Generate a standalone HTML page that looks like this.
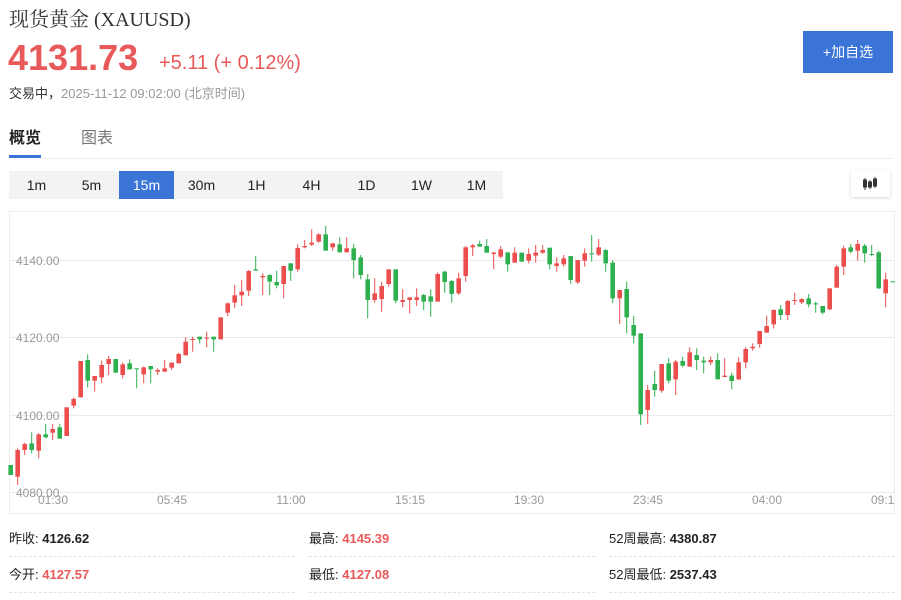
<!DOCTYPE html>
<html><head><meta charset="utf-8"><style>
*{margin:0;padding:0;box-sizing:border-box}
body{width:901px;height:600px;background:#fff;font-family:"Liberation Sans","Noto Sans CJK SC",sans-serif;position:relative;overflow:hidden;color:#333}
.a{position:absolute;white-space:nowrap}
.red{color:#e85a5a}
.iv{position:absolute;top:171px;height:28px;width:55px;line-height:28px;text-align:center;font-size:14px;color:#222}
.st{position:absolute;font-size:13px;color:#222}
.st b{font-weight:bold}
.dl{position:absolute;height:0;border-top:1px dashed #e2e2e2;width:286px}
</style></head><body>
<div class="a" style="left:9px;top:3px;font-size:20px;color:#333;font-family:'Liberation Serif','Noto Serif CJK SC',serif">现货黄金 (XAUUSD)</div>
<div class="a red" style="left:8px;top:37px;font-size:36px;font-weight:bold">4131.73</div>
<div class="a red" style="left:159px;top:52px;font-size:20px">+5.11 (+ 0.12%)</div>
<div class="a" style="left:9px;top:83px;font-size:13px;color:#333">交易中，<span style="color:#999">2025-11-12 09:02:00 (北京时间)</span></div>
<div class="a" style="left:803px;top:31px;width:90px;height:42px;background:#3a74d6;color:#fff;font-size:14px;line-height:42px;text-align:center">+加自选</div>
<div class="a" style="left:9px;top:124px;font-size:16px;font-weight:bold;color:#222">概览</div>
<div class="a" style="left:81px;top:124px;font-size:16px;color:#777">图表</div>
<div class="a" style="left:9px;top:155px;width:32px;height:3px;background:#3a74d6"></div>
<div class="a" style="left:41px;top:158px;width:852px;height:1px;background:#eee"></div>
<div class="a" style="left:9px;top:171px;width:494px;height:28px;background:#f2f3f5"></div>
<div class="iv" style="left:9px">1m</div><div class="iv" style="left:64px">5m</div>
<div class="iv" style="left:119px;background:#3a74d6;color:#fff">15m</div>
<div class="iv" style="left:174px">30m</div><div class="iv" style="left:229px">1H</div>
<div class="iv" style="left:284px">4H</div><div class="iv" style="left:339px">1D</div>
<div class="iv" style="left:394px">1W</div><div class="iv" style="left:449px">1M</div>
<div class="a" style="left:851px;top:170px;width:39px;height:27px;background:#fff;box-shadow:0 1px 3px rgba(0,0,0,.15)">
<svg width="39" height="27"><g fill="#333" stroke="#333"><line x1="14" y1="8" x2="14" y2="20"/><rect x="12.5" y="10" width="3" height="7"/><line x1="19" y1="10" x2="19" y2="19"/><rect x="17.5" y="12" width="3" height="5"/><line x1="24" y1="7" x2="24" y2="18"/><rect x="22.5" y="9" width="3" height="7"/></g></svg></div>
<svg class="a" style="left:0;top:0" width="901" height="520" id="ch">
<rect x="9.5" y="211.5" width="885" height="302" fill="none" stroke="#eee"/>
<g stroke="#eaeaea"><line x1="10" y1="260.5" x2="894" y2="260.5"/><line x1="10" y1="337.5" x2="894" y2="337.5"/><line x1="10" y1="415.5" x2="894" y2="415.5"/><line x1="10" y1="492.5" x2="894" y2="492.5"/></g>
<g font-size="12" fill="#999" font-family="Liberation Sans,sans-serif">
<text x="16" y="265">4140.00</text><text x="16" y="342">4120.00</text><text x="16" y="420">4100.00</text><text x="16" y="497">4080.00</text>
<g text-anchor="middle"><text x="53" y="504">01:30</text><text x="172" y="504">05:45</text><text x="291" y="504">11:00</text><text x="410" y="504">15:15</text><text x="529" y="504">19:30</text><text x="648" y="504">23:45</text><text x="767" y="504">04:00</text></g>
<text x="871" y="504">09:1</text></g>
<g id="cs"></g>
</svg>
<div class="st" style="left:9px;top:528px">昨收: <b>4126.62</b></div>
<div class="st" style="left:309px;top:528px">最高: <b class="red">4145.39</b></div>
<div class="st" style="left:609px;top:528px">52周最高: <b>4380.87</b></div>
<div class="st" style="left:9px;top:564px">今开: <b class="red">4127.57</b></div>
<div class="st" style="left:309px;top:564px">最低: <b class="red">4127.08</b></div>
<div class="st" style="left:609px;top:564px">52周最低: <b>2537.43</b></div>
<div class="dl" style="left:9px;top:556px"></div><div class="dl" style="left:309px;top:556px"></div><div class="dl" style="left:609px;top:556px"></div>
<div class="dl" style="left:9px;top:592px"></div><div class="dl" style="left:309px;top:592px"></div><div class="dl" style="left:609px;top:592px"></div>
<script>
var d=[
"g735,765,735,765","r690,770,685,795","r672,690,668,705","g670,690,637,700","r643,692,640,715","g643,652,612,655","r627,638,612,660","g622,656,612,656","r562,648,562,648","r537,557,532,565",
"r423,532,423,532","g420,482,403,502","r468,482,468,515","r435,472,422,490","r417,432,408,465","g417,458,417,458","r433,465,428,475","g430,448,418,448","g445,448,445,505","r442,463,440,490",
"g438,448,438,490","r450,455,445,465","r445,455,420,455","r428,443,428,450","r402,430,398,430","r365,406,352,406","r357,360,350,395","g350,358,350,370","r353,356,335,382","g350,358,350,395",
"r292,358,292,358","r250,278,248,288","r226,248,195,265","r215,226,180,258","r153,212,150,228","g148,152,108,152","r168,172,160,225","g165,185,163,225","g186,196,152,205","r138,192,138,235",
"g130,152,130,183","r84,148,72,155","r78,82,60,85","r68,74,28,78","r43,65,40,68","g43,92,18,92","r70,82,70,92","g73,97,52,97","r85,97,52,97","g85,120,72,175",
"g112,165,105,178","g178,240,162,295","r220,240,175,248","r198,237,185,275","r148,192,148,200","g148,242,148,250","r240,246,208,262","r232,240,232,280","r232,240,205,258","g225,245,222,270",
"g229,245,208,290","r162,245,157,245","g155,186,152,218","g183,222,180,248","r175,220,158,225","r82,168,78,185","r76,82,72,108","g72,80,62,80","g78,98,57,98","r98,102,95,148",
"r88,110,78,115","g97,133,97,155","r98,128,82,128","g98,125,98,125","r102,122,85,130","r98,107,75,128","r90,98,75,102","g83,133,83,148","r130,138,112,155","r115,133,105,140",
"g108,180,108,192","r120,187,120,192","r100,122,85,140","g100,103,45,125","r82,104,57,108","g90,130,88,155","g128,235,120,250","r210,235,210,312","g207,292,185,340","g315,347,288,370",
"g340,583,340,615","r510,570,495,612","g492,510,452,530","r432,512,432,518","g430,482,415,490","r425,478,420,525","g423,437,410,442","r397,440,382,440","g405,420,385,450","g422,427,410,460",
"r420,427,410,435","g420,478,400,478","r467,471,415,471","g467,483,458,508","r427,478,412,480","r387,427,382,445","r380,385,370,392","r333,372,333,383","r318,338,287,338","r270,313,268,325",
"g268,285,255,300","r243,285,240,300","r240,243,218,255","r237,247,235,252","g235,253,222,262","g250,253,245,278","g258,278,258,283","r205,268,205,270","r140,203,135,203","r85,140,77,165",
"g82,95,72,100","r72,92,60,122","g77,100,72,128","g102,105,75,108","g97,205,92,207","r178,220,158,262","g184,186,184,186"];
var s="";
d.forEach(function(c,i){var col=c[0]=="r"?"#ec4d4d":"#2eb050";var v=c.slice(1).split(",").map(Number).map(function(z){return 220+z/3});
var x=10.7+7*i;var h=Math.max(1,v[1]-v[0]);
s+='<line x1="'+x+'" x2="'+x+'" y1="'+v[2]+'" y2="'+v[3]+'" stroke="'+col+'" stroke-width="1"/>';
s+='<rect x="'+(x-2.3)+'" y="'+v[0]+'" width="4.6" height="'+h+'" fill="'+col+'"/>';});
document.getElementById("cs").innerHTML=s;
</script>
</body></html>
